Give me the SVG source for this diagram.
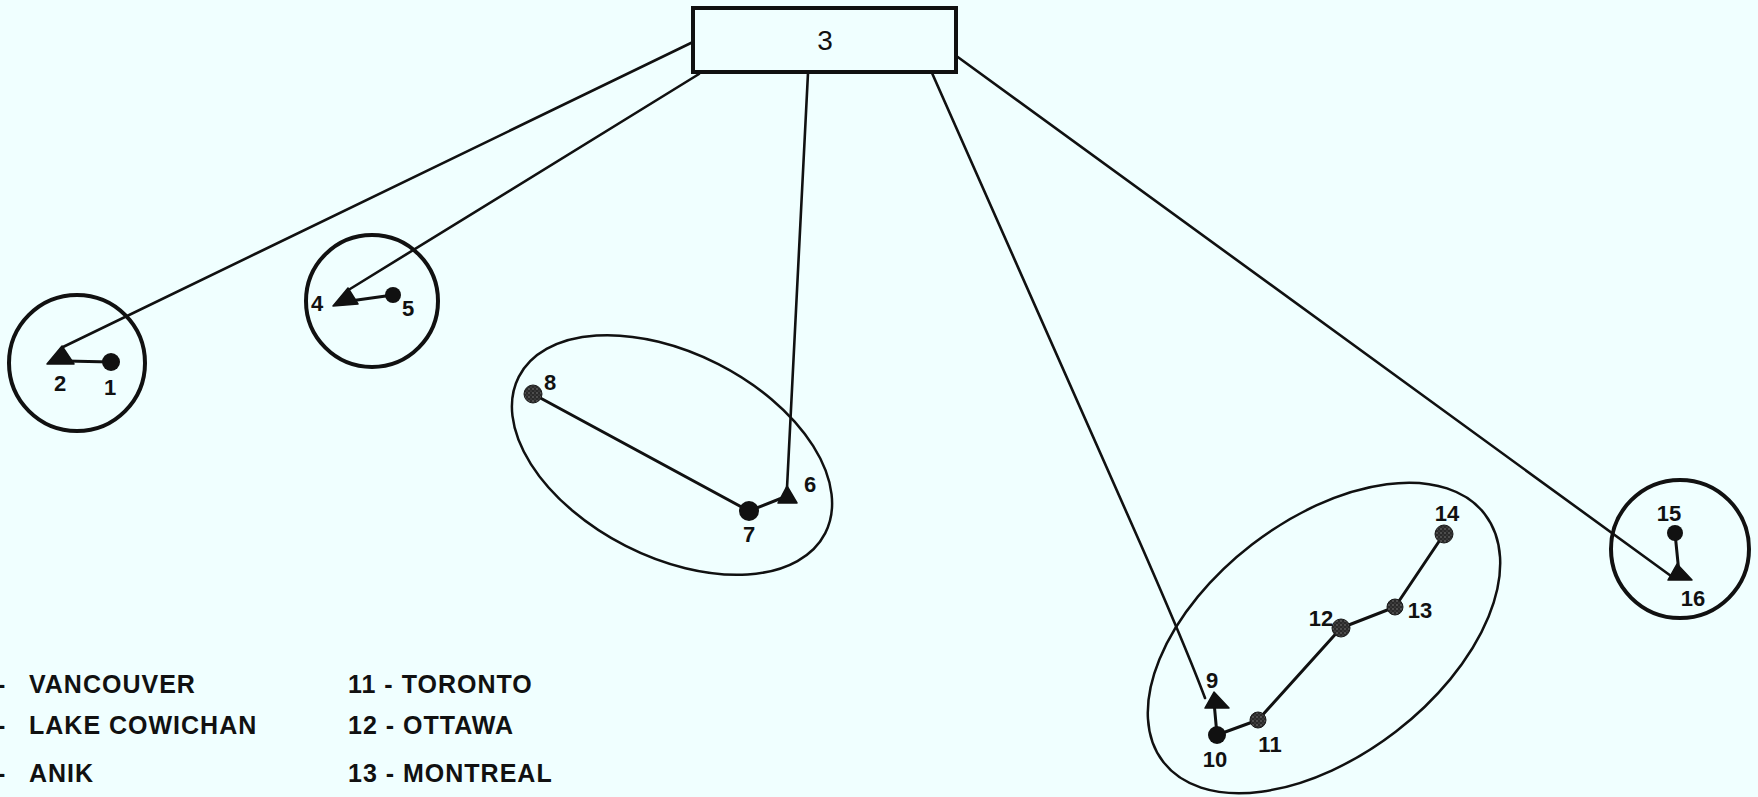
<svg xmlns="http://www.w3.org/2000/svg" width="1758" height="797" viewBox="0 0 1758 797">
  <style>
    .bg { fill: #f0ffff; }
    .box { fill: #f0ffff; stroke: #111; stroke-width: 4; }
    .ring { fill: none; stroke: #111; stroke-width: 4; }
    .zone { fill: none; stroke: #111; stroke-width: 2.5; }
    .link { fill: none; stroke: #111; stroke-width: 2.6; stroke-linecap: round; }
    .edge { fill: none; stroke: #111; stroke-width: 3; stroke-linecap: round; }
    .dot { fill: #111; }
    .shade { fill: url(#stipple); stroke: #1a1a1a; stroke-width: 1; }
    .tri { fill: #111; stroke: #111; stroke-width: 1.5; stroke-linejoin: round; }
    .lbl { font-family: "Liberation Sans", Arial, sans-serif; font-weight: bold; font-size: 22px; fill: #111; }
    .title { font-family: "Liberation Sans", Arial, sans-serif; font-size: 28px; fill: #111; }
    .legend { font-family: "Liberation Sans", Arial, sans-serif; font-weight: bold; font-size: 25px; letter-spacing: 1px; fill: #111; }
  </style>
  <defs>
    <!-- speckled fill for the half-tone station dots -->
    <pattern id="stipple" width="4" height="4" patternUnits="userSpaceOnUse">
      <rect width="4" height="4" fill="#2a2a2a"/>
      <circle cx="1" cy="1" r="0.7" fill="#8a8a8a"/>
      <circle cx="3" cy="3" r="0.6" fill="#6a6a6a"/>
    </pattern>
  </defs>

  <rect class="bg" x="0" y="0" width="1758" height="797"/>

  <!-- boundaries around station groups -->
  <g id="regions">
    <circle class="ring" cx="77" cy="363" r="68"/>
    <circle class="ring" cx="372" cy="301" r="66"/>
    <ellipse class="zone" cx="672" cy="455" rx="172" ry="102" transform="rotate(27 672 455)"/>
    <ellipse class="zone" cx="1324" cy="638" rx="203" ry="118" transform="rotate(-37.6 1324 638)"/>
    <circle class="ring" cx="1680" cy="549" r="69"/>
  </g>

  <!-- links from the central node and between stations -->
  <g id="connectors">
    <line class="link" x1="693" y1="42" x2="63" y2="347"/>
    <line class="link" x1="699" y1="74" x2="350" y2="289"/>
    <line class="link" x1="808" y1="73" x2="787" y2="488"/>
    <path class="link" d="M932 73 L1141 545 Q1187 650 1205 698"/>
    <line class="link" x1="955" y1="55" x2="1671" y2="576"/>

    <line class="edge" x1="66" y1="361" x2="111" y2="362"/>
    <line class="edge" x1="350" y1="301" x2="393" y2="295"/>
    <line class="edge" x1="533" y1="394" x2="749" y2="511"/>
    <line class="edge" x1="749" y1="511" x2="787" y2="496"/>
    <line class="edge" x1="1214" y1="702" x2="1217" y2="735"/>
    <line class="edge" x1="1217" y1="735" x2="1258" y2="720"/>
    <line class="edge" x1="1258" y1="720" x2="1341" y2="628"/>
    <line class="edge" x1="1341" y1="628" x2="1395" y2="607"/>
    <line class="edge" x1="1395" y1="607" x2="1444" y2="534"/>
    <line class="edge" x1="1675" y1="533" x2="1679" y2="573"/>
  </g>

  <g id="n3">
    <rect class="box" x="693" y="8" width="263" height="64"/>
    <text class="title" x="825" y="50" text-anchor="middle">3</text>
  </g>

  <g id="n1">
    <circle class="dot" cx="111" cy="362" r="9"/>
    <text class="lbl" x="110" y="395" text-anchor="middle">1</text>
  </g>
  <g id="n2">
    <polygon class="tri" points="62,346 47,364 74,364"/>
    <text class="lbl" x="60" y="391" text-anchor="middle">2</text>
  </g>
  <g id="n4">
    <polygon class="tri" points="348,288 333,306 358,304"/>
    <text class="lbl" x="317" y="311" text-anchor="middle">4</text>
  </g>
  <g id="n5">
    <circle class="dot" cx="393" cy="295" r="8"/>
    <text class="lbl" x="408" y="316" text-anchor="middle">5</text>
  </g>
  <g id="n6">
    <polygon class="tri" points="787,486 778,503 797,503"/>
    <text class="lbl" x="810" y="492" text-anchor="middle">6</text>
  </g>
  <g id="n7">
    <circle class="dot" cx="749" cy="511" r="10"/>
    <text class="lbl" x="749" y="542" text-anchor="middle">7</text>
  </g>
  <g id="n8">
    <circle class="shade" cx="533" cy="394" r="9"/>
    <text class="lbl" x="550" y="390" text-anchor="middle">8</text>
  </g>
  <g id="n9">
    <polygon class="tri" points="1214,692 1205,708 1229,708"/>
    <text class="lbl" x="1212" y="688" text-anchor="middle">9</text>
  </g>
  <g id="n10">
    <circle class="dot" cx="1217" cy="735" r="9"/>
    <text class="lbl" x="1215" y="767" text-anchor="middle">10</text>
  </g>
  <g id="n11">
    <circle class="shade" cx="1258" cy="720" r="8"/>
    <text class="lbl" x="1270" y="752" text-anchor="middle">11</text>
  </g>
  <g id="n12">
    <circle class="shade" cx="1341" cy="628" r="9"/>
    <text class="lbl" x="1321" y="626" text-anchor="middle">12</text>
  </g>
  <g id="n13">
    <circle class="shade" cx="1395" cy="607" r="8"/>
    <text class="lbl" x="1420" y="618" text-anchor="middle">13</text>
  </g>
  <g id="n14">
    <circle class="shade" cx="1444" cy="534" r="9"/>
    <text class="lbl" x="1447" y="521" text-anchor="middle">14</text>
  </g>
  <g id="n15">
    <circle class="dot" cx="1675" cy="533" r="8"/>
    <text class="lbl" x="1669" y="521" text-anchor="middle">15</text>
  </g>
  <g id="n16">
    <polygon class="tri" points="1677,564 1668,580 1692,580"/>
    <text class="lbl" x="1693" y="606" text-anchor="middle">16</text>
  </g>

  <!-- key to station numbers -->
  <g id="legend">
    <text class="legend" x="-3" y="693">-<tspan x="29">VANCOUVER</tspan></text>
    <text class="legend" x="-3" y="734">-<tspan x="29">LAKE COWICHAN</tspan></text>
    <text class="legend" x="-3" y="782">-<tspan x="29">ANIK</tspan></text>
    <text class="legend" x="348" y="693">11 - TORONTO</text>
    <text class="legend" x="348" y="734">12 - OTTAWA</text>
    <text class="legend" x="348" y="782">13 - MONTREAL</text>
  </g>
</svg>
